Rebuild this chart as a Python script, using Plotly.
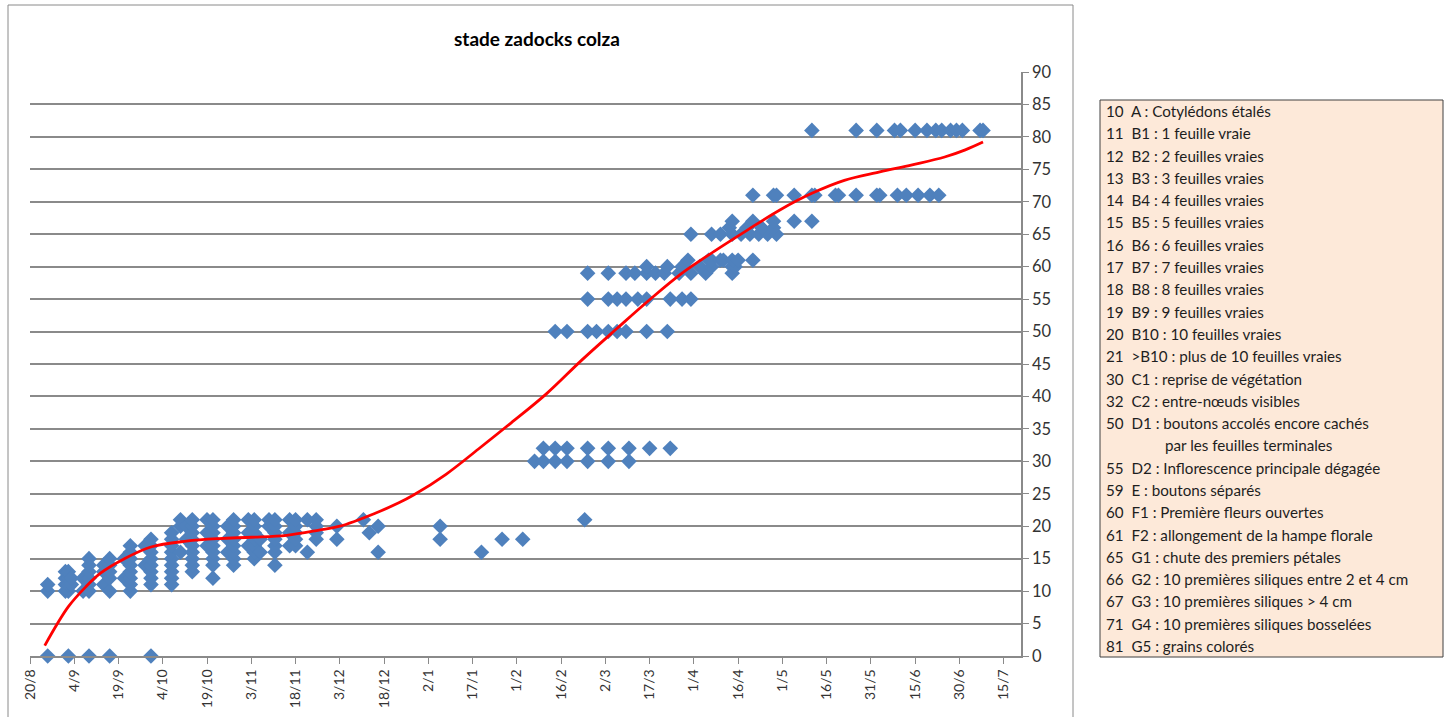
import pandas as pd
import plotly.graph_objects as go

# ---------------------------------------------------------------------------
# Autumn survey: each date with the Zadoks stages recorded on that date
# ---------------------------------------------------------------------------
autumn_dates = [
    "2015-08-26", "2015-09-01", "2015-09-02", "2015-09-03", "2015-09-07",
    "2015-09-09", "2015-09-14", "2015-09-16", "2015-09-21", "2015-09-23",
    "2015-09-28", "2015-09-30", "2015-10-07", "2015-10-10", "2015-10-12",
    "2015-10-14", "2015-10-19", "2015-10-21", "2015-10-26", "2015-10-28",
    "2015-11-02", "2015-11-04", "2015-11-06", "2015-11-09", "2015-11-11",
    "2015-11-16", "2015-11-18", "2015-11-22", "2015-11-25", "2015-12-02",
    "2015-12-11", "2015-12-13", "2015-12-16", "2016-01-06", "2016-01-20",
    "2016-01-27", "2016-02-03",
]
autumn_stages = [
    [0, 10, 11], [10, 11, 12, 13], [0, 10, 11, 12, 13], [11, 12], [10, 12],
    [0, 10, 11, 12, 13, 14, 15], [11, 13, 14], [0, 10, 12, 13, 14, 15], [12, 15],
    [10, 11, 12, 13, 14, 15, 16, 17],
    [14, 17], [0, 11, 12, 13, 14, 15, 16, 17, 18],
    [11, 12, 13, 14, 15, 16, 17, 18, 19], [16, 20, 21], [18, 20],
    [13, 14, 15, 16, 17, 18, 19, 20, 21], [17, 19, 21],
    [12, 14, 15, 16, 17, 18, 19, 20, 21], [16, 18, 20],
    [14, 15, 16, 17, 18, 19, 20, 21],
    [17, 19, 21], [15, 16, 17, 18, 19, 20, 21], [16, 18], [20, 21],
    [14, 16, 17, 18, 19, 20, 21],
    [17, 19, 21], [17, 18, 19, 20, 21], [16, 21], [18, 19, 20, 21], [18, 20],
    [21], [19], [16, 20], [18, 20], [16],
    [18], [18],
]

# ---------------------------------------------------------------------------
# Spring survey: for each stage, the dates on which it was recorded
# ---------------------------------------------------------------------------
spring_codes = [21, 30, 32, 50, 55, 59, 60, 61, 65, 66, 67, 71, 81]
spring_dates = [
    ["2016-02-24"],
    ["2016-02-07", "2016-02-10", "2016-02-14", "2016-02-18", "2016-02-25",
     "2016-03-03", "2016-03-10"],
    ["2016-02-10", "2016-02-14", "2016-02-18", "2016-02-25", "2016-03-03",
     "2016-03-10", "2016-03-17", "2016-03-24"],
    ["2016-02-14", "2016-02-18", "2016-02-25", "2016-02-28", "2016-03-03",
     "2016-03-06", "2016-03-09", "2016-03-16", "2016-03-23"],
    ["2016-02-25", "2016-03-03", "2016-03-06", "2016-03-09", "2016-03-13",
     "2016-03-16", "2016-03-24", "2016-03-28", "2016-03-31"],
    ["2016-02-25", "2016-03-03", "2016-03-09", "2016-03-12", "2016-03-16",
     "2016-03-19", "2016-03-22", "2016-03-27", "2016-03-31", "2016-04-05",
     "2016-04-14"],
    ["2016-03-16", "2016-03-23", "2016-03-28", "2016-04-03", "2016-04-07",
     "2016-04-14", "2016-04-15"],
    ["2016-03-30", "2016-04-06", "2016-04-07", "2016-04-10", "2016-04-11",
     "2016-04-14", "2016-04-16", "2016-04-21"],
    ["2016-03-31", "2016-04-07", "2016-04-10", "2016-04-14", "2016-04-17",
     "2016-04-20", "2016-04-23", "2016-04-26", "2016-04-29"],
    ["2016-04-13", "2016-04-19", "2016-04-24", "2016-04-28"],
    ["2016-04-14", "2016-04-21", "2016-04-28", "2016-05-05", "2016-05-11"],
    ["2016-04-21", "2016-04-28", "2016-04-29", "2016-05-05", "2016-05-11",
     "2016-05-12", "2016-05-19", "2016-05-20", "2016-05-26", "2016-06-02",
     "2016-06-03", "2016-06-09", "2016-06-12", "2016-06-16", "2016-06-20",
     "2016-06-23"],
    ["2016-05-11", "2016-05-26", "2016-06-02", "2016-06-08", "2016-06-10",
     "2016-06-15", "2016-06-19", "2016-06-22", "2016-06-24", "2016-06-27",
     "2016-06-29", "2016-07-01", "2016-07-07", "2016-07-08"],
]

# Polynomial trend of the stage over the season
trend_dates = [
    "2015-08-25", "2015-09-02", "2015-09-08", "2015-09-13", "2015-09-21",
    "2015-09-30", "2015-10-12", "2015-10-23", "2015-11-03", "2015-11-15",
    "2015-11-26", "2015-12-03", "2015-12-15", "2015-12-23", "2015-12-28",
    "2016-01-08", "2016-01-19", "2016-01-30", "2016-02-11", "2016-02-23",
    "2016-03-06", "2016-03-17", "2016-03-28", "2016-04-08", "2016-04-19",
    "2016-04-30", "2016-05-11", "2016-05-22", "2016-06-03", "2016-06-14",
    "2016-06-25", "2016-07-02", "2016-07-08",
]
trend_values = [
    1.6, 7.6, 10.7, 12.8, 15.0,
    16.8, 17.7, 18.1, 18.3, 18.6,
    19.4, 20.0, 22.0, 23.6, 24.8,
    28.0, 31.9, 35.9, 40.4, 45.6,
    50.5, 54.9, 59.0, 62.4, 65.6,
    68.7, 71.3, 73.3, 74.6, 75.7,
    76.9, 78.0, 79.2,
]

# Key to the stage codes
stage_key = [
    "10\u00a0 A : Cotylédons étalés",
    "11\u00a0 B1 : 1 feuille vraie",
    "12\u00a0 B2 : 2 feuilles vraies",
    "13\u00a0 B3 : 3 feuilles vraies",
    "14\u00a0 B4 : 4 feuilles vraies",
    "15\u00a0 B5 : 5 feuilles vraies",
    "16\u00a0 B6 : 6 feuilles vraies",
    "17\u00a0 B7 : 7 feuilles vraies",
    "18\u00a0 B8 : 8 feuilles vraies",
    "19\u00a0 B9 : 9 feuilles vraies",
    "20\u00a0 B10 : 10 feuilles vraies",
    "21\u00a0 >B10 : plus de 10 feuilles vraies",
    "30\u00a0 C1 : reprise de végétation",
    "32\u00a0 C2 : entre-nœuds visibles",
    "50\u00a0 D1 : boutons accolés encore cachés",
    "par les feuilles terminales",
    "55\u00a0 D2 : Inflorescence principale dégagée",
    "59\u00a0 E : boutons séparés",
    "60\u00a0 F1 : Première fleurs ouvertes",
    "61\u00a0 F2 : allongement de la hampe florale",
    "65\u00a0 G1 : chute des premiers pétales",
    "66\u00a0 G2 : 10 premières siliques entre 2 et 4 cm",
    "67\u00a0 G3 : 10 premières siliques > 4 cm",
    "71\u00a0 G4 : 10 premières siliques bosselées",
    "81\u00a0 G5 : grains colorés",
]

# ---------------------------------------------------------------------------
# Flatten the survey into points
# ---------------------------------------------------------------------------
obs_x, obs_y = [], []
for d, stages in zip(autumn_dates, autumn_stages):
    for s in stages:
        obs_x.append(d)
        obs_y.append(s)
for s, dates in zip(spring_codes, spring_dates):
    for d in dates:
        obs_x.append(d)
        obs_y.append(s)

FONT = "Lato, Carlito, 'Open Sans', sans-serif"
GRID = "#8a8a8a"

W, H = 1451, 717
ML, MR, MT, MB = 30, 430, 72, 61
PW, PH = W - ML - MR, H - MT - MB


def px_x(x):
    return (x - ML) / PW


def px_y(y):
    return (H - MB - y) / PH


fig = go.Figure()

fig.add_trace(go.Scatter(
    x=pd.to_datetime(obs_x), y=obs_y, mode="markers",
    marker=dict(symbol="diamond", size=12, color="#4F81BD", line=dict(width=0)),
    cliponaxis=False, showlegend=False, name="stade",
))

fig.add_trace(go.Scatter(
    x=pd.to_datetime(trend_dates), y=trend_values, mode="lines",
    line=dict(color="#FF0000", width=2.8, shape="spline", smoothing=1.0),
    cliponaxis=False, showlegend=False, name="tendance",
))

shapes = [
    # chart frame
    dict(type="rect", xref="paper", yref="paper",
         x0=px_x(8), x1=px_x(1073), y0=px_y(730), y1=px_y(5),
         line=dict(color="#8a8a8a", width=1), fillcolor="rgba(0,0,0,0)",
         layer="below"),
    # key box
    dict(type="rect", xref="paper", yref="paper",
         x0=px_x(1100), x1=px_x(1443), y0=px_y(657), y1=px_y(100),
         line=dict(color="#404040", width=1), fillcolor="#FDE9D9",
         layer="below"),
]

annotations = [
    dict(text="<b>stade zadocks colza</b>", xref="paper", yref="paper",
         x=px_x(537), y=px_y(38), xanchor="center", yanchor="middle",
         showarrow=False, font=dict(family=FONT, size=19, color="#000000")),
]

line_step = (646 - 111) / (len(stage_key) - 1)
for i, txt in enumerate(stage_key):
    indent = 1163 if not txt[:2].isdigit() else 1104
    annotations.append(dict(
        text=txt, xref="paper", yref="paper",
        x=px_x(indent), y=px_y(111 + i * line_step),
        xanchor="left", yanchor="middle", showarrow=False,
        font=dict(family=FONT, size=15.2, color="#1e1e1e"),
    ))

fig.update_layout(
    width=W, height=H,
    margin=dict(l=ML, r=MR, t=MT, b=MB, autoexpand=False),
    paper_bgcolor="white", plot_bgcolor="white",
    font=dict(family=FONT, color="#333333"),
    shapes=shapes, annotations=annotations,
    xaxis=dict(
        type="date",
        range=["2015-08-20", "2016-07-20 21:00"],
        tick0="2015-08-20", dtick=15 * 24 * 3600 * 1000,
        tickformat="%-d/%-m", tickangle=-90,
        ticks="outside", ticklen=6, tickcolor=GRID, tickwidth=1,
        showline=True, linecolor=GRID, linewidth=1.5,
        showgrid=False, zeroline=False,
        tickfont=dict(family=FONT, size=14, color="#333333"),
    ),
    yaxis=dict(
        range=[0, 90], dtick=5, side="right",
        ticks="outside", ticklen=6, tickcolor=GRID, tickwidth=1,
        showline=True, linecolor=GRID, linewidth=1.5,
        showgrid=True, gridcolor=GRID, gridwidth=1.6,
        zeroline=False,
        tickfont=dict(family=FONT, size=16.5, color="#333333"),
    ),
)

fig.write_html("out.html")
